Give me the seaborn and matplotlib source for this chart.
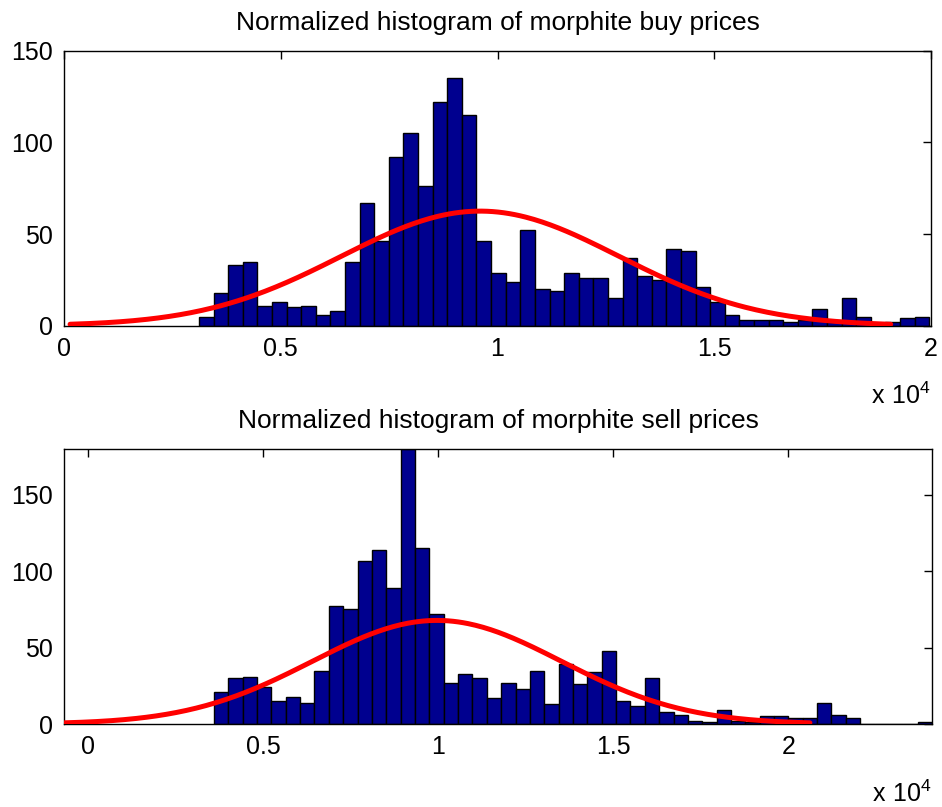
import numpy as np
import pandas as pd
import matplotlib
matplotlib.use("Agg")
import matplotlib.pyplot as plt
import seaborn as sns

# ---------------- data ----------------
buy_counts = [5, 18, 33, 35, 11, 13, 10, 11, 6, 8,
              35, 67, 46, 92, 105, 76, 122, 135, 115, 46,
              29, 24, 52, 20, 19, 29, 26, 26, 15, 37,
              27, 25, 42, 41, 21, 13, 6, 3, 3, 3,
              2, 3, 9, 2, 15, 5, 1, 2, 4, 5]
buy_range = [3114, 19960]          # data min / max (bin range)
buy_fit_mu = 9600
buy_fit_sigma = 3200
buy_fit_peak = 62.5
buy_fit_span = [140, 19070]

sell_counts = [21, 30, 31, 24, 15, 18, 14, 35, 77, 75,
               107, 114, 89, 180, 115, 72, 27, 33, 30, 17,
               27, 23, 35, 13, 39, 26, 34, 48, 15, 12,
               30, 8, 6, 2, 1, 9, 2, 1, 5, 5,
               4, 4, 14, 6, 4, 0, 0, 0, 0, 1]
sell_range = [3591, 24106]
sell_fit_mu = 9961
sell_fit_sigma = 3552
sell_fit_peak = 67.8
sell_fit_span = [-694, 20617]

x_ticks = [0, 5000, 10000, 15000, 20000]
x_tick_labels = ["0", "0.5", "1", "1.5", "2"]
y_ticks = [0, 50, 100, 150]

titles = ["Normalized histogram of morphite buy prices",
          "Normalized histogram of morphite sell prices"]

# ---------------- style ----------------
sns.set_style("white")
plt.rcParams["font.family"] = ["Liberation Sans", "DejaVu Sans"]
plt.rcParams["mathtext.default"] = "regular"
plt.rcParams["text.color"] = "black"
plt.rcParams["axes.labelcolor"] = "black"
plt.rcParams["xtick.color"] = "black"
plt.rcParams["ytick.color"] = "black"

BAR_COLOR = "#00008F"

fig = plt.figure(figsize=(9.42, 8.07), dpi=100)
W, H = 942.0, 807.0
ax_top = fig.add_axes([64 / W, 1 - 325.7 / H, 867 / W, 275 / H])
ax_bot = fig.add_axes([64 / W, 1 - 724 / H, 868 / W, 275 / H])


def draw(ax, counts, rng, mu, sigma, peak, span, xlim, ylim, title):
    edges = np.linspace(rng[0], rng[1], len(counts) + 1)
    centers = (edges[:-1] + edges[1:]) / 2
    df = pd.DataFrame({"price": centers, "count": np.asarray(counts, float)})
    sns.histplot(data=df, x="price", weights="count",
                 bins=[float(e) for e in edges], ax=ax,
                 color=BAR_COLOR, edgecolor="black", linewidth=1.0,
                 alpha=1.0, zorder=2)
    xs = np.linspace(span[0], span[1], 300)
    ys = peak * np.exp(-0.5 * ((xs - mu) / sigma) ** 2)
    sns.lineplot(x=xs, y=ys, ax=ax, color="red", linewidth=3.6, zorder=3)
    ax.set_xlim(*xlim)
    ax.set_ylim(*ylim)
    ax.set_xticks(x_ticks)
    ax.set_xticklabels(x_tick_labels)
    ax.set_yticks(y_ticks)
    ax.set_xlabel("")
    ax.set_ylabel("")
    ax.tick_params(direction="in", top=True, right=True, length=6,
                   width=1, labelsize=18, pad=8, colors="black")
    for s in ax.spines.values():
        s.set_visible(True)
        s.set_color("black")
        s.set_linewidth(1.0)
    ax.set_title(title, fontsize=19, pad=15, color="black")
    ax.text(1.0, -0.285, r"$\mathregular{x\ 10^{4}}$", transform=ax.transAxes,
            ha="right", va="baseline", fontsize=18, color="black")


draw(ax_top, buy_counts, buy_range, buy_fit_mu, buy_fit_sigma, buy_fit_peak,
     buy_fit_span, (0, 20000), (0, 150), titles[0])
draw(ax_bot, sell_counts, sell_range, sell_fit_mu, sell_fit_sigma,
     sell_fit_peak, sell_fit_span, (sell_fit_span[0], sell_range[1]),
     (0, 180), titles[1])

fig.savefig("out.png", dpi=100)
